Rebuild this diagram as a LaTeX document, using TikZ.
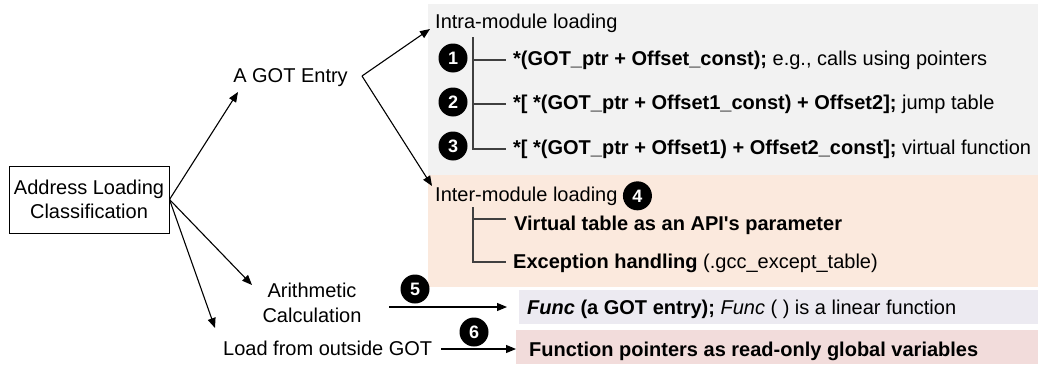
\documentclass[tikz,border=0pt]{standalone}
\usepackage{fontspec}
\setmainfont{Liberation Sans}
\usetikzlibrary{arrows.meta}
\definecolor{bggray}{HTML}{F2F2F2}
\definecolor{bgorange}{HTML}{FBE9DD}
\definecolor{bglav}{HTML}{ECEAF1}
\definecolor{bgpink}{HTML}{F2DCDB}
\begin{document}
\begin{tikzpicture}[x=1pt,y=-1pt,
  lbl/.style={font=\fontsize{20}{24}\selectfont, inner sep=0pt},
  rt/.style={font=\fontsize{20}{24}\selectfont, inner sep=0pt, anchor=base west, text height=14pt, text depth=4pt},
  num/.style={circle, fill=black, text=white, font=\fontsize{18}{18}\selectfont\bfseries, inner sep=0pt, minimum size=29pt},
  arr/.style={-{Triangle[length=10pt,width=8pt]}, line width=1.1pt},
  tree/.style={line width=1.4pt, draw=black!75},
  bg/.style={inner sep=0pt, anchor=north west},
]
\useasboundingbox (0,0) rectangle (1038,364);
% background panels
\node[bg, fill=bggray, minimum width=610pt, minimum height=171pt] (graybox) at (428,4) {};
\node[bg, fill=bgorange, minimum width=610pt, minimum height=112pt] (orangebox) at (428,175) {};
\node[bg, fill=bglav, minimum width=519pt, minimum height=34pt] (funcbox) at (519,290) {};
\node[bg, fill=bgpink, minimum width=522pt, minimum height=34pt] (ptrbox) at (516,330) {};

% left part
\node[draw, line width=1pt, minimum width=160pt, minimum height=67pt, align=center,
      font=\fontsize{20}{24}\selectfont, inner sep=0pt] (root) at (89,199.5) {Address Loading\\Classification};
\node[lbl, anchor=base] (got) at (290.5,82) {A GOT Entry};
\node[lbl, align=center, font=\fontsize{20}{25}\selectfont] (arith) at (312,303) {Arithmetic\\Calculation};
\node[lbl, anchor=base west] (load) at (223,355) {Load from outside GOT};

\coordinate (gotIn) at (238,92);
\coordinate (arithIn) at (252,285);
\coordinate (loadIn) at (215,328);
\draw[arr] (root.east) -- (gotIn);
\draw[arr] (root.east) -- (arithIn);
\draw[arr] (root.east) -- (loadIn);

% GOT entry branches
\coordinate (apex) at (362,76);
\coordinate (intraIn) at (430,29);
\coordinate (interIn) at (432,186);
\draw[arr] (apex) -- (intraIn);
\draw[arr] (apex) -- (interIn);

% intra-module
\node[lbl, anchor=base west] (intra) at (435,28) {Intra-module loading};
\node[rt] (t1) at (513,65) {\textbf{*(GOT\_ptr + Offset\_const);} e.g., calls using pointers};
\node[rt] (t2) at (513,109) {\textbf{*[ *(GOT\_ptr + Offset1\_const) + Offset2];} jump table};
\node[rt] (t3) at (513,154) {\textbf{*[ *(GOT\_ptr + Offset1) + Offset2\_const];} virtual function};
\node[num] (n1) at (453,58) {1};
\node[num] (n2) at (453,102) {2};
\node[num] (n3) at (453,146) {3};
\coordinate (itop) at (473,37);
\draw[tree] (itop) |- ([xshift=-7pt]t3.west);
\draw[tree] (itop|-t1.west) -- ([xshift=-7pt]t1.west);
\draw[tree] (itop|-t2.west) -- ([xshift=-7pt]t2.west);

% inter-module
\node[lbl, anchor=base west] (inter) at (435,201) {Inter-module loading};
\node[num, anchor=west] (n4) at ([xshift=5pt]inter.east) {4};
\node[rt] (v1) at (514,230) {\textbf{Virtual table as an API\textquotesingle s parameter}};
\node[rt] (v2) at (513,268) {\textbf{Exception handling} (.gcc\_except\_table)};
\coordinate (etop) at (473,207);
\coordinate (eb1) at (506,219);
\coordinate (eb2) at (506,262);
\draw[tree] (etop) |- (eb2);
\draw[tree] (etop|-eb1) -- (eb1);

% arithmetic / outside GOT
\node[rt] (f1) at (527,314) {\textbf{\textit{Func} (a GOT entry);} \textit{Func} ( ) is a linear function};
\node[rt] (f2) at (529,356) {\textbf{Function pointers as read-only global variables}};
\node[num] (n5) at (415,289) {5};
\node[num] (n6) at (474,332) {6};
\coordinate (a5s) at (389,307);
\coordinate (a5e) at (507,307);
\draw[arr] (a5s) -- (a5e);
\coordinate (a6s) at (441,349);
\draw[arr] (a6s) -- (a6s-|ptrbox.west);
\end{tikzpicture}
\end{document}
